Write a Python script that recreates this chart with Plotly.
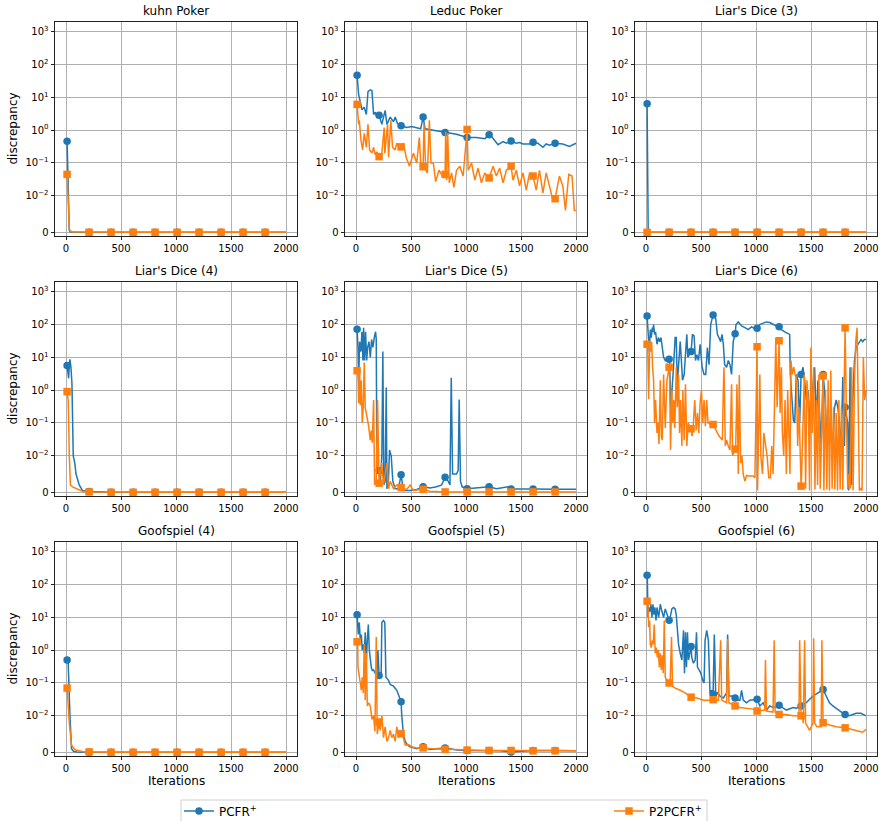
import numpy as np
import plotly.graph_objects as go

TITLES = ["kuhn Poker", "Leduc Poker", "Liar's Dice (3)",
          "Liar's Dice (4)", "Liar's Dice (5)", "Liar's Dice (6)",
          "Goofspiel (4)", "Goofspiel (5)", "Goofspiel (6)"]
SERIES_NAMES = ["PCFR<sup>+</sup>", "P2PCFR<sup>+</sup>"]
MARK_X = [10, 210, 410, 610, 810, 1010, 1210, 1410, 1610, 1810]
X_TICKS = [0, 500, 1000, 1500, 2000]
Y_TICK_VALUES = [0, 0.01, 0.1, 1, 10, 100, 1000]
Y_TICK_TEXT = ["0", "10<sup>−2</sup>", "10<sup>−1</sup>", "10<sup>0</sup>",
               "10<sup>1</sup>", "10<sup>2</sup>", "10<sup>3</sup>"]

# ---- kuhn Poker
P1_X = [10, 20, 30, 40, 60, 100, 210, 410, 610, 810, 1010, 1210, 1410, 1610, 1810, 2000]
P1_Y_PCFR = [0.46, 0.02, 0.0005, 0.0001, 0.00005, 0.00002, 0, 0, 0, 0, 0, 0, 0, 0, 0, 0]
P1_Y_P2 = [0.045, 0.01, 0.001, 0.0003, 0.0001, 0.00005, 0, 0, 0, 0, 0, 0, 0, 0, 0, 0]

# ---- Leduc Poker
P2_X_PCFR = [10, 15, 24, 39, 54, 75, 94, 109, 130, 145, 160, 175, 190, 210, 235, 265, 281, 311,
             341, 356, 377, 410, 462, 507, 552, 588, 610, 628, 703, 748, 810, 914, 1010, 1095,
             1171, 1210, 1231, 1261, 1291, 1337, 1367, 1410, 1457, 1487, 1518, 1578, 1610,
             1653, 1699, 1729, 1759, 1810, 1880, 1940, 2000]
P2_Y_PCFR = [47, 20, 12, 7.4, 4.2, 5, 3, 15, 17, 16, 3, 3.5, 2.5, 2.85, 1.5, 4, 1.5, 2.5,
             1.8, 2.5, 1.6, 1.36, 1.2, 1.3, 1.2, 1.1, 2.5, 1.1, 1.0, 0.95, 0.85, 0.75, 0.6, 0.6,
             0.55, 0.72, 0.65, 0.5, 0.36, 0.45, 0.4, 0.47, 0.4, 0.42, 0.38, 0.38, 0.43,
             0.4, 0.3, 0.38, 0.35, 0.4, 0.38, 0.32, 0.4]
P2_X_P2 = [10, 15, 24, 30, 39, 45, 60, 75, 94, 109, 124, 145, 160, 175, 190, 210, 235, 256, 262,
           287, 296, 317, 332, 356, 371, 395, 410, 431, 456, 486, 522, 552, 576, 591, 610, 618,
           634, 649, 667, 682, 703, 724, 754, 787, 810, 815, 824, 833, 848, 869, 890, 914, 944,
           974, 1010, 1020, 1050, 1080, 1110, 1140, 1171, 1210, 1246, 1276, 1306, 1337, 1367,
           1410, 1427, 1457, 1487, 1518, 1548, 1578, 1610, 1638, 1668, 1699, 1729, 1759, 1789,
           1810, 1849, 1880, 1904, 1934, 1964, 1985, 2000]
P2_Y_P2 = [6.1, 3, 1.5, 2, 0.8, 0.5, 0.25, 0.8, 0.3, 1.5, 0.25, 0.2, 0.3, 0.18, 0.22, 0.156, 0.2,
           1.2, 0.2, 1.5, 0.15, 2, 0.3, 0.25, 0.4, 0.3, 0.31, 0.4, 0.15, 0.08, 0.2, 0.1, 0.6, 0.07,
           0.077, 1.5, 0.06, 0.05, 2, 0.1, 0.1, 0.027, 0.06, 0.04, 0.045, 0.9, 0.03, 0.8, 0.025,
           0.05, 0.018, 0.06, 0.08, 0.04, 1.05, 0.06, 0.1, 0.03, 0.07, 0.025, 0.05, 0.035, 0.08,
           0.04, 0.07, 0.025, 0.06, 0.08, 0.03, 0.06, 0.02, 0.05, 0.015, 0.05, 0.04, 0.015, 0.06,
           0.012, 0.05, 0.02, 0.009, 0.0092, 0.04, 0.02, 0.006, 0.045, 0.04, 0.006, 0.006]

# ---- Liar's Dice (3)
P3_X = [10, 20, 210, 410, 610, 810, 1010, 1210, 1410, 1610, 1810, 2000]
P3_Y_PCFR = [6.4, 0, 0, 0, 0, 0, 0, 0, 0, 0, 0, 0]
P3_Y_P2 = [0, 0, 0, 0, 0, 0, 0, 0, 0, 0, 0, 0]

# ---- Liar's Dice (4)
P4_X_PCFR = [10, 24, 30, 36, 45, 54, 66, 80, 91, 110, 120, 150, 210, 410, 610, 810, 1010, 1210,
             1410, 1610, 1810, 2000]
P4_Y_PCFR = [5.6, 2.3, 6, 8.7, 5, 1.6, 0.01, 0.008, 0.005, 0.003, 0.002, 0.0005, 0.0002, 0, 0,
             0, 0, 0, 0, 0, 0, 0]
P4_X_P2 = [10, 20, 30, 40, 60, 100, 150, 210, 410, 610, 810, 1010, 1210, 1410, 1610, 1810, 2000]
P4_Y_P2 = [0.9, 0.5, 0.01, 0.002, 0.0015, 0.001, 0.0003, 0.0001, 0, 0, 0, 0, 0, 0, 0, 0, 0]

# ---- Liar's Dice (5)
P5_X_PCFR = [10, 18, 24, 33, 45, 54, 63, 69, 78, 87, 97, 106, 118, 130, 142, 154, 166, 178, 184,
             190, 210, 220, 235, 244, 253, 265, 275, 281, 293, 305, 320, 335, 356, 386, 410, 431,
             492, 552, 610, 673, 733, 778, 810, 839, 854, 866, 878, 914, 929, 938, 950, 965, 1010,
             1095, 1210, 1276, 1382, 1410, 1518, 1610, 1810, 2000]
P5_Y_PCFR = [72, 20, 2, 30, 15, 60, 8, 80, 8, 60, 8, 20, 30, 10, 35, 20, 40, 60, 35,
             0.0065, 0.006, 0.002, 0.01, 15, 0.002, 0.003, 1.2, 0.001, 0.002, 0.015, 0.01, 0.003,
             0.001, 0.001, 0.0048, 0.0005, 0.0005, 0.0008, 0.0015, 0.0012, 0.0015, 0.002, 0.0041,
             0.003, 0.002, 2.4, 0.005, 0.005, 0.006, 0.52, 0.003, 0.0015, 0.001, 0.0012, 0.0015,
             0.001, 0.0015, 0.0009, 0.0008, 0.0009, 0.0008, 0.0008]
P5_X_P2 = [10, 18, 24, 33, 39, 48, 57, 66, 75, 84, 100, 115, 130, 139, 148, 160, 169, 184, 196,
           210, 220, 235, 250, 265, 281, 296, 311, 341, 371, 410, 462, 492, 522, 610, 673, 810,
           1010, 1210, 1410, 1610, 1810, 2000]
P5_Y_P2 = [3.9, 3.5, 0.4, 3, 0.35, 2, 0.1, 0.3, 7, 0.3, 0.15, 0.08, 0.03, 0.06, 0.025, 0.5,
           0.002, 0.003, 0.5, 0.0025, 0.005, 0.008, 0.002, 0.005, 0.008, 0.001, 0.003, 0.001,
           0.002, 0.0013, 0.0008, 0.002, 0.0005, 0.0008, 0.0003, 0.0001, 0.0001, 0.0001, 0.0001,
           0.0001, 0.0001, 0.0001]

# ---- Liar's Dice (6)
P6_X_PCFR = [10, 15, 24, 30, 39, 48, 57, 63, 69, 78, 87, 100, 112, 124, 136, 148, 160, 175, 196,
             210, 214, 226, 238, 250, 265, 275, 284, 296, 311, 320, 332, 347, 359, 371, 380, 410,
             422, 437, 450, 462, 477, 492, 510, 528, 543, 558, 573, 588, 610, 618, 634, 649, 664,
             679, 691, 703, 715, 733, 748, 763, 778, 793, 810, 818, 839, 869, 899, 929, 959, 990,
             1010, 1035, 1065, 1095, 1125, 1155, 1186, 1210, 1231, 1261, 1291, 1306, 1312, 1321,
             1330, 1340, 1352, 1367, 1382, 1397, 1410, 1427, 1442, 1457, 1472, 1487, 1502, 1518,
             1533, 1548, 1563, 1578, 1593, 1610, 1623, 1638, 1653, 1668, 1683, 1699, 1714, 1729,
             1744, 1759, 1774, 1789, 1804, 1810, 1834, 1843, 1855, 1867, 1880, 1895, 1910, 1925,
             1940, 1955, 1970, 1985, 2000]
P6_Y_PCFR = [183, 100, 50, 15, 70, 40, 80, 60, 100, 50, 60, 25, 40, 30, 40, 20, 10, 8, 10,
             8.7, 9, 0.3, 2, 5, 40, 40, 1.5, 5, 30, 10, 2, 3, 15, 50, 10, 15,
             50, 45, 8, 12, 8, 25, 5, 3, 3, 20, 6, 100, 196, 180, 150, 50, 40,
             30, 50, 25, 6, 5, 8, 6, 3, 30, 52, 100, 120, 90, 80, 70, 85, 75,
             77, 100, 110, 120, 115, 100, 90, 85, 70, 60, 55, 50, 3, 1.2,
             0.5, 0.12, 0.1, 3, 2, 0.1, 3, 5, 2, 0.5, 1, 0.05, 3, 0.5,
             5, 0.1, 2, 0.3, 0.02, 3, 1, 0.1, 0.03, 0.1, 0.05, 0.02, 0.3, 0.5,
             0.3, 0.1, 0.015, 2.5, 0.02, 0.3, 0.1, 0.0005, 5, 0.002, 0.5, 8, 20, 25,
             30, 35, 30, 35, 35]
P6_X_P2 = [10, 15, 24, 33, 42, 51, 60, 69, 78, 87, 100, 109, 118, 130, 139, 148, 160, 175, 190,
           210, 214, 223, 235, 244, 253, 262, 275, 284, 296, 305, 314, 326, 335, 347, 359, 371,
           383, 410, 419, 431, 443, 456, 468, 480, 492, 504, 516, 528, 540, 552, 564, 576, 591,
           610, 618, 634, 649, 664, 679, 694, 703, 709, 721, 733, 748, 763, 778, 787, 810, 815,
           827, 839, 848, 860, 872, 884, 899, 914, 929, 959, 974, 990, 1010, 1014, 1026, 1035,
           1044, 1059, 1071, 1086, 1101, 1116, 1131, 1143, 1155, 1171, 1180, 1192, 1210, 1219,
           1231, 1240, 1252, 1264, 1276, 1288, 1300, 1309, 1318, 1330, 1343, 1355, 1367, 1379,
           1391, 1410, 1415, 1427, 1439, 1451, 1463, 1475, 1487, 1499, 1511, 1524, 1536, 1548,
           1560, 1572, 1584, 1610, 1617, 1632, 1644, 1656, 1668, 1680, 1692, 1705, 1717, 1729,
           1741, 1753, 1765, 1777, 1789, 1801, 1810, 1822, 1834, 1846, 1858, 1870, 1883, 1895,
           1907, 1919, 1928, 1940, 1952, 1964, 1976, 1988, 2000]
P6_Y_P2 = [25, 25, 0.53, 20, 15, 30, 5, 2, 0.1, 0.5, 0.05, 0.1, 0.023, 2, 0.04, 0.03, 3, 0.07, 2,
           5, 3, 0.015, 1, 0.1, 0.5, 0.07, 5, 0.3, 3, 0.05, 0.5, 0.02, 1, 0.03, 1.5, 0.02,
           0.1, 0.067, 0.04, 0.1, 0.5, 0.06, 0.2, 0.05, 0.4, 1, 0.1, 0.5, 0.08, 0.5, 0.1, 0.1, 0.08,
           0.09, 0.08, 0.06, 0.05, 0.04, 0.035, 0.03, 1, 5, 0.02, 0.03, 0.02, 0.015, 1.5, 0.01,
           0.016, 0.015, 1.5, 0.005, 2.9, 0.008, 0.01, 0.005, 0.003, 0.0046, 0.0045, 0.0045,
           0.0045, 0.004, 21, 0.0005, 0.5, 3, 0.01, 0.005, 0.05, 0.02, 0.01, 0.004, 0.004, 0.02,
           0.005, 1, 38, 0.3, 32, 0.2, 5, 0.05, 0.01, 0.5, 0.005, 1, 0.01, 0.005, 8, 3, 5, 3, 2.5,
           0.02, 0.3, 0.0017, 0.005, 0.3, 3, 0.001, 2, 0.5, 0.0005, 20, 0.05, 5, 0.0008, 0.5,
           0.002, 3, 0.001, 2.7, 0.0005, 1, 0.0008, 2, 0.0005, 4, 0.001, 0.3, 0.0008, 0.2,
           0.0005, 0.5, 0.0008, 0.3, 0.0006, 1, 79, 0.2, 0.0008, 0.005, 0.001, 5, 0.0005, 2,
           30, 80, 0.5, 0.0005, 0.001, 0.0005, 10, 0.5, 1]

# ---- Goofspiel (4)
P7_X_PCFR = [10, 20, 36, 50, 70, 100, 210, 410, 610, 810, 1010, 1210, 1410, 1610, 1810, 2000]
P7_Y_PCFR = [0.5, 0.4, 0.01, 0.001, 0.0002, 0.0001, 0, 0, 0, 0, 0, 0, 0, 0, 0, 0]
P7_X_P2 = [10, 30, 50, 80, 150, 210, 410, 610, 810, 1010, 1210, 1410, 1610, 1810, 2000]
P7_Y_P2 = [0.07, 0.008, 0.002, 0.0007, 0.0002, 0.0001, 0, 0, 0, 0, 0, 0, 0, 0, 0]

# ---- Goofspiel (5)
P8_X_PCFR = [10, 15, 21, 30, 39, 48, 57, 69, 75, 84, 94, 103, 112, 121, 130, 139, 148, 160, 175,
             190, 199, 210, 220, 229, 235, 250, 262, 272, 296, 311, 341, 371, 410, 416, 431, 447,
             468, 492, 552, 610, 673, 733, 810, 854, 914, 1010, 1095, 1210, 1306, 1410, 1518,
             1610, 1810, 2000]
P8_Y_PCFR = [12, 5, 3, 7, 2, 3, 1, 1.5, 0.8, 3.5, 0.5, 2, 6, 1, 0.5, 0.3, 0.24, 0.25, 0.2,
             0.15, 1.0, 0.17, 0.15, 0.2, 7, 8, 7, 0.15, 0.12, 0.09, 0.08, 0.06, 0.027, 0.01, 0.005,
             0.003, 0.002, 0.0015, 0.001, 0.0015, 0.0008, 0.001, 0.0012, 0.001, 0.0006, 0.0005,
             0.0005, 0.0005, 0.0004, 0.0001, 0.0004, 0.0005, 0.0005, 0.0004]
P8_X_P2 = [10, 15, 18, 27, 39, 48, 57, 66, 75, 84, 94, 103, 115, 130, 145, 160, 172, 184, 193,
           210, 220, 235, 250, 265, 281, 296, 311, 326, 341, 356, 371, 386, 410, 431, 447, 477,
           507, 552, 610, 703, 810, 1010, 1210, 1410, 1610, 1810, 2000]
P8_Y_P2 = [1.8, 1.8, 0.3, 0.15, 0.1, 0.06, 0.15, 0.05, 1.5, 0.03, 0.8, 0.02, 0.025, 0.02, 0.009,
           0.01, 0.0057, 2.5, 0.005, 0.0083, 0.006, 0.01, 0.004, 0.007, 0.003, 0.004, 0.006,
           0.004, 0.005, 0.003, 0.007, 0.004, 0.0051, 0.004, 0.002, 0.0021, 0.0015, 0.0012,
           0.0012, 0.001, 0.0008, 0.0006, 0.0005, 0.0005, 0.0004, 0.0004, 0.0004]

# ---- Goofspiel (6)
P9_X_PCFR = [10, 12, 18, 27, 36, 45, 54, 63, 72, 81, 91, 100, 115, 130, 145, 160, 175, 190, 210,
             220, 235, 250, 265, 275, 287, 296, 311, 326, 341, 350, 359, 368, 377, 386, 410, 416,
             431, 447, 459, 468, 483, 498, 516, 528, 537, 552, 567, 582, 597, 610, 621, 634, 649,
             673, 703, 733, 742, 754, 778, 810, 824, 854, 869, 884, 914, 944, 1010, 1035, 1065,
             1095, 1125, 1155, 1210, 1246, 1276, 1337, 1367, 1410, 1457, 1518, 1563, 1610, 1638,
             1668, 1699, 1744, 1789, 1810, 1849, 1880, 1910, 1955, 2000]
P9_Y_PCFR = [192, 180, 10, 20, 15, 25, 10, 25, 12, 20, 8, 20, 10, 25, 15, 10, 18, 12, 8.1,
             10, 18, 20, 18, 12, 3, 1.5, 0.8, 0.5, 4, 0.2, 3.5, 0.3, 3.5, 0.5, 1.3, 0.6,
             0.4, 0.5, 3.5, 0.3, 0.25, 0.2, 0.12, 0.1, 2, 4, 2, 0.05, 0.06, 0.045, 3, 0.04, 0.05,
             0.04, 0.035, 0.05, 3, 0.04, 0.04, 0.035, 0.03, 0.03, 0.06, 0.03, 0.025, 0.03, 0.032,
             0.02, 0.025, 0.015, 0.02, 0.018, 0.021, 0.018, 0.015, 0.018, 0.017, 0.02, 0.025,
             0.04, 0.05, 0.063, 0.04, 0.025, 0.02, 0.015, 0.012, 0.011, 0.01, 0.011, 0.012,
             0.012, 0.01]
P9_X_P2 = [10, 18, 24, 33, 39, 48, 57, 66, 75, 84, 94, 103, 112, 121, 130, 139, 148, 157, 166,
           175, 190, 210, 220, 232, 241, 265, 311, 356, 410, 462, 522, 567, 610, 658, 679, 688,
           733, 742, 754, 810, 854, 914, 974, 1010, 1080, 1086, 1095, 1155, 1165, 1174, 1210,
           1276, 1337, 1391, 1397, 1410, 1421, 1430, 1442, 1451, 1472, 1487, 1518, 1524, 1533,
           1554, 1578, 1593, 1599, 1610, 1668, 1729, 1810, 1849, 1910, 1970, 2000]
P9_Y_P2 = [31, 25, 5, 8, 1.5, 1.2, 2, 1.5, 6, 0.8, 1.2, 0.6, 1, 0.3, 0.8, 0.25, 0.7, 0.2, 8,
           0.15, 0.12, 0.1, 0.12, 2.5, 0.08, 0.07, 0.06, 0.05, 0.037, 0.035, 0.03, 0.03, 0.031,
           0.03, 2, 0.03, 0.025, 2.2, 0.025, 0.02, 0.018, 0.017, 0.016, 0.014, 0.015, 0.5, 0.014,
           0.013, 2, 0.013, 0.011, 0.011, 0.01, 0.01, 2, 0.01, 0.01, 0.008, 2, 0.008, 0.007,
           0.006, 0.008, 2.3, 0.008, 0.007, 0.007, 0.007, 2, 0.0081, 0.0075, 0.007, 0.0067,
           0.0065, 0.006, 0.0055, 0.0063]

PANELS = [
    (P1_X, P1_Y_PCFR, P1_X, P1_Y_P2),
    (P2_X_PCFR, P2_Y_PCFR, P2_X_P2, P2_Y_P2),
    (P3_X, P3_Y_PCFR, P3_X, P3_Y_P2),
    (P4_X_PCFR, P4_Y_PCFR, P4_X_P2, P4_Y_P2),
    (P5_X_PCFR, P5_Y_PCFR, P5_X_P2, P5_Y_P2),
    (P6_X_PCFR, P6_Y_PCFR, P6_X_P2, P6_Y_P2),
    (P7_X_PCFR, P7_Y_PCFR, P7_X_P2, P7_Y_P2),
    (P8_X_PCFR, P8_Y_PCFR, P8_X_P2, P8_Y_P2),
    (P9_X_PCFR, P9_Y_PCFR, P9_X_P2, P9_Y_P2),
]

# symmetric log scale (matplotlib symlog, linthresh=0.01, linscale=1)
LINTHRESH = 0.01
LINSCALE_ADJ = 1.0 / (1.0 - 0.1)


def symlog(values):
    v = np.asarray(values, dtype=float)
    out = np.where(v <= LINTHRESH, v / LINTHRESH * LINSCALE_ADJ,
                   LINSCALE_ADJ + np.log10(np.maximum(v, LINTHRESH) / LINTHRESH))
    return out


W, H = 881, 821
BLUE = "#1f77b4"
ORANGE = "#ff7f0e"
FONT = "DejaVu Sans"

COL_PX = [(55, 297), (345, 587), (635, 877)]
ROW_PX = [(22, 236), (282, 496), (542, 756)]

fig = go.Figure()
layout = {}
annotations = []

for i, (xa, ya, xb, yb) in enumerate(PANELS):
    r, c = divmod(i, 3)
    n = "" if i == 0 else str(i + 1)
    xref, yref = "x" + n, "y" + n
    for xs, ys, color, sym in [(xa, ya, BLUE, "circle"), (xb, yb, ORANGE, "square")]:
        xs = np.asarray(xs, dtype=float)
        ys_t = symlog(ys)
        fig.add_trace(go.Scatter(x=xs, y=ys_t, mode="lines", line=dict(color=color, width=1.5),
                                 xaxis=xref, yaxis=yref, showlegend=False, hoverinfo="skip"))
        m = np.isin(xs, MARK_X)
        fig.add_trace(go.Scatter(x=xs[m], y=ys_t[m], mode="markers",
                                 marker=dict(color=color, symbol=sym, size=7.5, line=dict(width=0)),
                                 xaxis=xref, yaxis=yref, showlegend=False, hoverinfo="skip"))
    x0, x1 = COL_PX[c]
    y0, y1 = ROW_PX[r]
    axis_common = dict(showline=True, mirror=True, linecolor="#222222", linewidth=0.9,
                       ticks="outside", ticklen=3.5, tickwidth=0.9, tickcolor="#222222",
                       showgrid=True, gridcolor="#b0b0b0", gridwidth=0.8, zeroline=False,
                       tickfont=dict(family=FONT, size=10, color="black"))
    layout["xaxis" + n] = dict(domain=[x0 / W, x1 / W], anchor=yref, range=[-100, 2100],
                               tickmode="array", tickvals=X_TICKS,
                               ticktext=[str(t) for t in X_TICKS], **axis_common)
    layout["yaxis" + n] = dict(domain=[1 - y1 / H, 1 - y0 / H], anchor=xref,
                               range=[-0.113, 6.406], tickmode="array",
                               tickvals=list(symlog(Y_TICK_VALUES)), ticktext=Y_TICK_TEXT,
                               **axis_common)
    annotations.append(dict(text=TITLES[i], x=(x0 + x1) / 2 / W, y=1 - (y0 - 11) / H,
                            xref="paper", yref="paper", xanchor="center", yanchor="middle",
                            showarrow=False, font=dict(family=FONT, size=12, color="black")))
    if c == 0:
        annotations.append(dict(text="discrepancy", x=12.5 / W, y=1 - (y0 + y1) / 2 / H,
                                xref="paper", yref="paper", xanchor="center", yanchor="middle",
                                textangle=-90, showarrow=False,
                                font=dict(family=FONT, size=12, color="black")))
    if r == 2:
        annotations.append(dict(text="Iterations", x=(x0 + x1) / 2 / W, y=1 - 781 / H,
                                xref="paper", yref="paper", xanchor="center", yanchor="middle",
                                showarrow=False, font=dict(family=FONT, size=12, color="black")))

LEGEND_X_PX = [179, 609]
for k, (name, color, sym) in enumerate([(SERIES_NAMES[0], BLUE, "circle"),
                                         (SERIES_NAMES[1], ORANGE, "square")]):
    fig.add_trace(go.Scatter(x=[None], y=[None], mode="lines+markers", name=name,
                             line=dict(color=color, width=1.5),
                             marker=dict(color=color, symbol=sym, size=7.5),
                             xaxis="x", yaxis="y", legend="legend" if k == 0 else "legend2"))

legend_common = dict(orientation="h", xanchor="left", yanchor="middle", y=1 - 811 / H,
                     borderwidth=0, bgcolor="rgba(0,0,0,0)", itemwidth=30,
                     font=dict(family=FONT, size=12, color="black"))

fig.update_layout(
    width=W, height=H, autosize=False,
    margin=dict(l=0, r=0, t=0, b=0, autoexpand=False),
    paper_bgcolor="white", plot_bgcolor="white",
    font=dict(family=FONT, size=10, color="black"),
    annotations=annotations,
    showlegend=True,
    legend=dict(x=LEGEND_X_PX[0] / W, **legend_common),
    legend2=dict(x=LEGEND_X_PX[1] / W, **legend_common),
    shapes=[dict(type="rect", xref="paper", yref="paper", x0=181 / W, x1=707 / W,
                 y0=1 - 830 / H, y1=1 - 800 / H, line=dict(color="#d0d0d0", width=1),
                 fillcolor="rgba(0,0,0,0)", layer="below")],
    **layout,
)

fig.write_html("out.html")
